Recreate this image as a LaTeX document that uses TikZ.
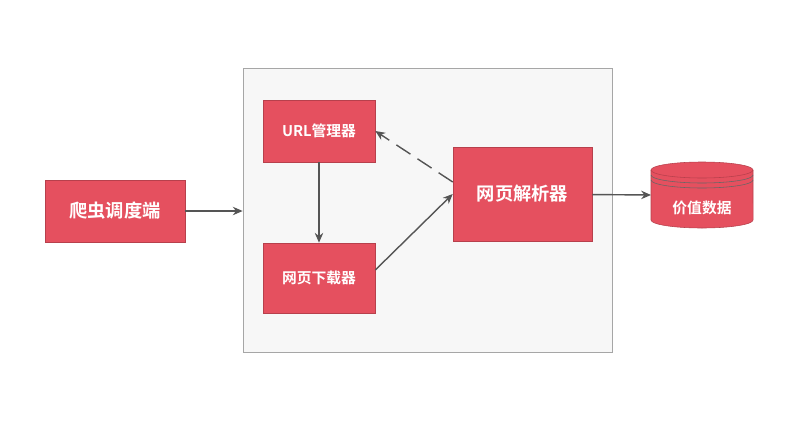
\documentclass[tikz,border=0pt]{standalone}
\usepackage{fontspec}
\setmainfont{Noto Sans CJK SC}[BoldFont={Noto Sans CJK SC Bold}]
\usetikzlibrary{positioning,arrows.meta}
\definecolor{boxred}{HTML}{E5505F}
\definecolor{linegray}{HTML}{555555}
\tikzset{
  redbox/.style={draw=boxred!80!black, fill=boxred, text=white, inner sep=0pt},
  flow/.style={draw=linegray, line width=1pt, -{Stealth[length=7pt,width=6pt]}}
}
\begin{document}
\begin{tikzpicture}[x=0.025cm,y=-0.025cm]
  \useasboundingbox (0,0) rectangle (800,421);
  % outer frame
  \node (frame) [draw=gray!70, fill=gray!6, minimum width=9.225cm, minimum height=7.1cm, inner sep=0pt] at (427.5,210) {};

  \node (sched) [redbox, minimum width=3.5cm, minimum height=1.55cm, font=\bfseries\fontsize{13}{15}\selectfont] at (115,211) {爬虫调度端};
  \node (url) [redbox, minimum width=2.8cm, minimum height=1.55cm, font=\bfseries\fontsize{10.5}{12}\selectfont] at (319,131) {URL管理器};
  \node (down) [redbox, minimum width=2.8cm, minimum height=1.75cm, font=\bfseries\fontsize{10.5}{12}\selectfont] at (319,278) {网页下载器};
  \node (parse) [redbox, minimum width=3.475cm, minimum height=2.35cm, font=\bfseries\fontsize{13}{15}\selectfont] at (522.5,194) {网页解析器};

  % database cylinder
  \fill[boxred] (651,170) -- (651,220) arc[start angle=180, end angle=360, x radius=1.275cm, y radius=0.2cm]
    -- (753,170) arc[start angle=0, end angle=180, x radius=1.275cm, y radius=0.2cm] -- cycle;
  \draw[boxred!80!black] (651,170) -- (651,220) arc[start angle=180, end angle=360, x radius=1.275cm, y radius=0.2cm] -- (753,170);
  \draw[boxred!80!black] (702,170) ellipse[x radius=1.275cm, y radius=0.2cm];
  \foreach \d in {5,10}
    \draw[gray!80!black] (651,170+\d) arc[start angle=180, end angle=360, x radius=1.275cm, y radius=0.2cm];
  \node (db) [text=white, font=\bfseries\fontsize{10.5}{12}\selectfont] at (702,208) {价值数据};
  \coordinate (dbin) at (651,195);

  \draw[flow] (sched) -- (frame.west |- sched);
  \draw[flow] (url) -- (down);
  \draw[flow] (down.east) ++(0,-8) coordinate (dout) -- (parse.west);
  \draw[flow, dashed, dash pattern=on 12pt off 6pt] (parse.west) ++(0,-12) coordinate (pin) -- (url.east);
  \draw[flow] (parse) -- (dbin);
\end{tikzpicture}
\end{document}
